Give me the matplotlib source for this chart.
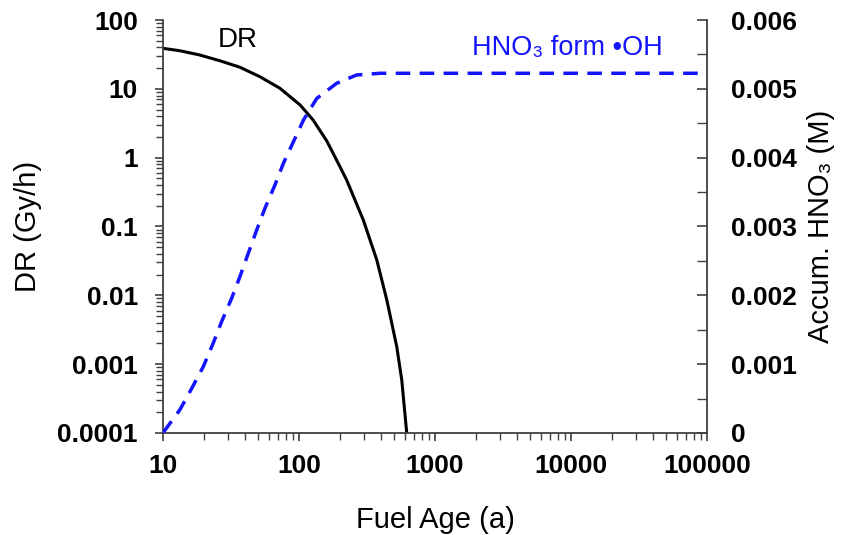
import matplotlib
matplotlib.use('Agg')
import matplotlib.pyplot as plt
from matplotlib.ticker import LogLocator, FixedLocator, MultipleLocator, NullFormatter

plt.rcParams['font.family'] = ['Liberation Sans', 'DejaVu Sans']

# dose rate curve (Gy/h)
dr_age = [10, 13.3, 18.7, 26.2, 36.8, 51.6, 72.4, 102, 127, 160, 200, 224,
          297, 373, 442, 523, 569, 619]
dr_val = [38.8, 35.8, 31.0, 25.6, 20.6, 15.0, 10.2, 5.82, 3.52, 1.75, 0.739, 0.473,
          0.124, 0.0326, 0.00855, 0.00179, 5.9e-4, 1e-4]

# accumulated HNO3 (M)
hno3_age = [10, 13.3, 16.3, 19.8, 23.4, 27.0, 32.0, 36.8, 42.4, 48.9, 56.2, 66.6,
            76.8, 108, 135, 189, 265, 394, 1000, 10000, 100000]
hno3_val = [0, 0.000334, 0.000649, 0.000963, 0.001303, 0.001617, 0.001957, 0.002271,
            0.002611, 0.002949, 0.003265, 0.003603, 0.003918, 0.004548, 0.00486,
            0.00508, 0.005201, 0.005226, 0.005226, 0.005226, 0.005226]

left_ticks = [1e-4, 1e-3, 1e-2, 1e-1, 1, 10, 100]
left_labels = ['0.0001', '0.001', '0.01', '0.1', '1', '10', '100']
right_ticks = [0, 0.001, 0.002, 0.003, 0.004, 0.005, 0.006]
right_labels = ['0', '0.001', '0.002', '0.003', '0.004', '0.005', '0.006']
x_ticks = [10, 100, 1000, 10000, 100000]
x_labels = ['10', '100', '1000', '10000', '100000']

axis_col = '#404040'
blue = '#1414ff'

fig = plt.figure(figsize=(8.44, 5.35), dpi=100)
ax = fig.add_axes([0.193, 0.1907, 0.645, 0.7719])

ax.plot(dr_age, dr_val, color='black', lw=2.2)
ax.set_xscale('log')
ax.set_yscale('log')
ax.set_xlim(10, 100000)
ax.set_ylim(1e-4, 100)

ax.yaxis.set_major_locator(FixedLocator(left_ticks))
ax.set_yticklabels(left_labels)
ax.yaxis.set_minor_locator(LogLocator(base=10, subs=range(2, 10), numticks=20))
ax.yaxis.set_minor_formatter(NullFormatter())
ax.xaxis.set_major_locator(FixedLocator(x_ticks))
ax.set_xticklabels(x_labels)
ax.xaxis.set_minor_locator(LogLocator(base=10, subs=range(2, 10), numticks=20))
ax.xaxis.set_minor_formatter(NullFormatter())

ax.spines['top'].set_visible(False)
ax.spines['right'].set_visible(False)
for s in ['left', 'bottom']:
    ax.spines[s].set_linewidth(1.3)
    ax.spines[s].set_color(axis_col)

ax.tick_params(which='major', direction='out', length=6, width=1.2, color=axis_col,
               labelsize=19)
ax.tick_params(axis='y', which='major', pad=12)
ax.tick_params(axis='x', which='major', pad=9)
ax.tick_params(which='minor', direction='out', length=5, width=1.0, color=axis_col)
for lab in ax.get_xticklabels() + ax.get_yticklabels():
    lab.set_fontweight('bold')

ax.set_xlabel('Fuel Age (a)', fontsize=21, labelpad=20)
ax.set_ylabel('DR (Gy/h)', fontsize=21, labelpad=11)

ax2 = ax.twinx()
ax2.plot(hno3_age, hno3_val, color=blue, lw=2.5, dashes=(4.2, 2.7))
ax2.set_ylim(0, 0.006)
ax2.yaxis.set_major_locator(FixedLocator(right_ticks))
ax2.set_yticklabels(right_labels)
ax2.yaxis.set_minor_locator(MultipleLocator(0.0005))
ax2.spines['top'].set_visible(False)
ax2.spines['left'].set_visible(False)
ax2.spines['bottom'].set_visible(False)
ax2.spines['right'].set_linewidth(1.3)
ax2.spines['right'].set_color(axis_col)
ax2.tick_params(which='major', direction='in', length=7, width=1.2, color=axis_col,
                labelsize=19, pad=17)
ax2.tick_params(which='minor', direction='in', length=7, width=1.0, color=axis_col)
for lab in ax2.get_yticklabels():
    lab.set_fontweight('bold')
ax2.set_ylabel('Accum. HNO\u2083 (M)', fontsize=21, labelpad=7)

# curve labels
ax2.text(0.101, 0.935, 'DR', transform=ax.transAxes, fontsize=20, va='baseline')
ax2.text(0.568, 0.915, 'HNO\u2083 form \u2022OH', transform=ax.transAxes, fontsize=19.5,
         color=blue, va='baseline')

fig.savefig('out.png', dpi=100)
